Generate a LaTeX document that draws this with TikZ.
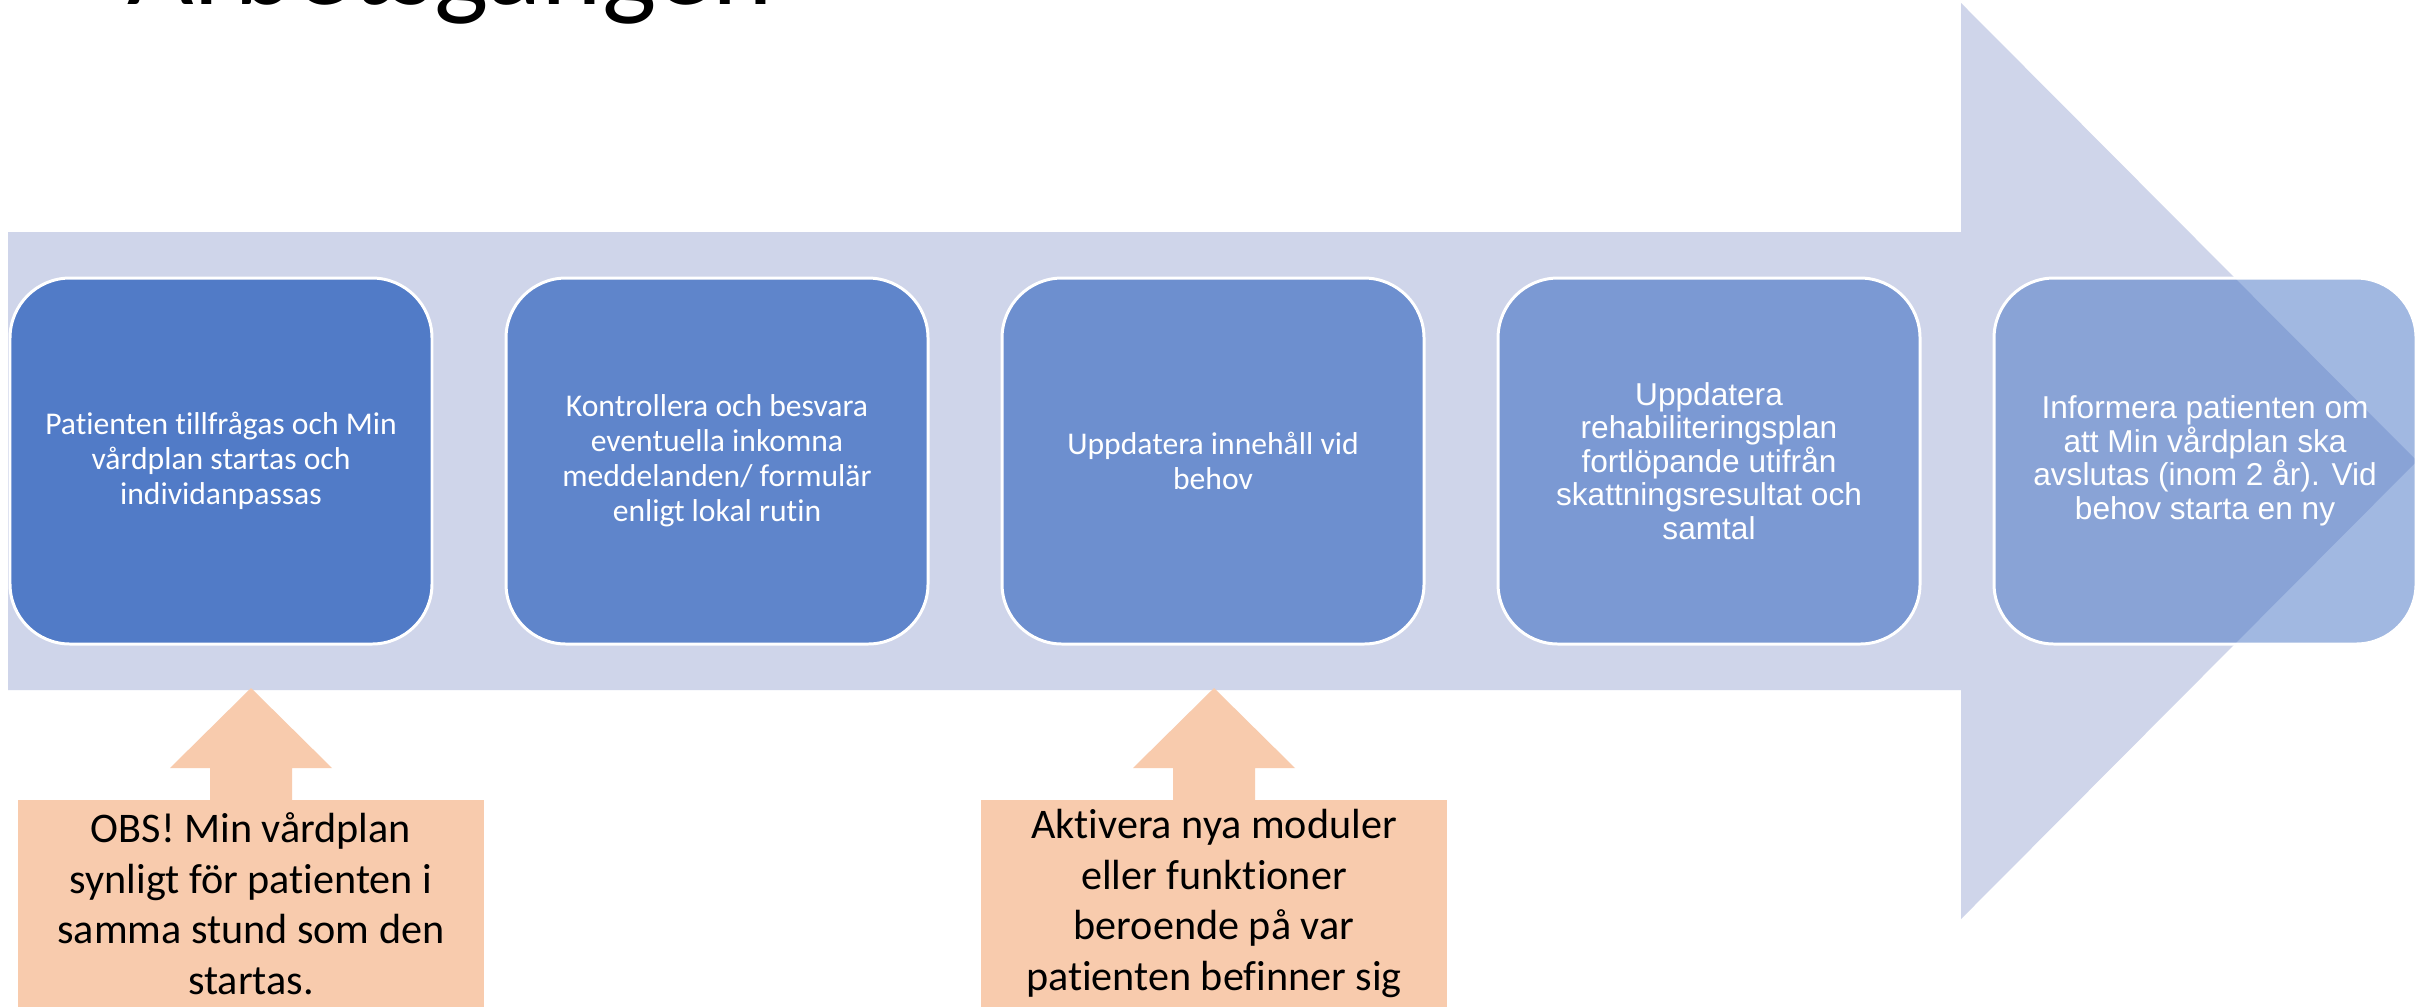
\documentclass[tikz,border=0pt]{standalone}
\usepackage{fontspec}
\setmainfont{Carlito}[Ligatures=NoCommon]
\newfontfamily\arialfont{Liberation Sans}
\definecolor{accent}{HTML}{4472C4}
\definecolor{bandblue}{HTML}{CFD5EA}
\definecolor{peach}{HTML}{F8CBAD}
\tikzset{
  phase/.style={rectangle, rounded corners=6mm, draw=white, line width=0.85pt, fill=accent, text=white, text opacity=1, minimum width=42.2mm, minimum height=36.6mm, align=center, inner sep=0pt, font=\fontsize{9}{9.96}\selectfont},
  arialphase/.style={phase, font=\arialfont\fontsize{9}{9.53}\selectfont},
  notebox/.style={rectangle, fill=peach, minimum width=46.6mm, minimum height=20.8mm, align=center, inner sep=0pt, anchor=north, font=\fontsize{12}{14.37}\selectfont},
}
\begin{document}
\begin{tikzpicture}[x=0.1mm, y=-0.1mm]
\useasboundingbox (0,0) rectangle (2435,1006);
\clip (0,0) rectangle (2435,1006);
\fill[white] (0,0) rectangle (2435,1006);
\node[anchor=base west, inner sep=0pt, font=\fontsize{32.7}{39}\selectfont] (title) at (127,4) {Arbetsgången};
\coordinate (tip) at (2417,461);
\fill[bandblue] (8,232) -- (1961,232) -- (1961,3) -- (tip) -- (1961,919) -- (1961,690) -- (8,690) -- cycle;
\node[phase, fill opacity=0.9] (p1) at (221,461) {Patienten tillfrågas och Min\\vårdplan startas och\\individanpassas};
\node[phase, fill opacity=0.8] (p2) at (717,461) {Kontrollera och besvara\\eventuella inkomna\\meddelanden/ formulär\\enligt lokal rutin};
\node[phase, fill opacity=0.7] (p3) at (1213,461) {Uppdatera innehåll vid\\behov};
\node[arialphase, fill opacity=0.6] (p4) at (1709,461) {Uppdatera\\rehabiliteringsplan\\fortlöpande utifrån\\skattningsresultat och\\samtal};
\node[arialphase, fill opacity=0.5] (p5) at (2205,461) {Informera patienten om\\att Min vårdplan ska\\avslutas (inom 2 år). Vid\\behov starta en ny};
\node[notebox] (obs) at (251,799) {OBS! Min vårdplan\\synligt för patienten i\\samma stund som den\\startas.};
\fill[peach] (obs.north) ++(-41,2) -- ++(0,-33) -- ++(-40,0) -- ++(81,-80) -- ++(81,80) -- ++(-40,0) -- ++(0,33) -- cycle;
\node[notebox] (akt) at (1214,799) {Aktivera nya moduler\\eller funktioner\\beroende på var\\patienten befinner sig};
\fill[peach] (akt.north) ++(-41,2) -- ++(0,-33) -- ++(-40,0) -- ++(81,-80) -- ++(81,80) -- ++(-40,0) -- ++(0,33) -- cycle;
\end{tikzpicture}
\end{document}
